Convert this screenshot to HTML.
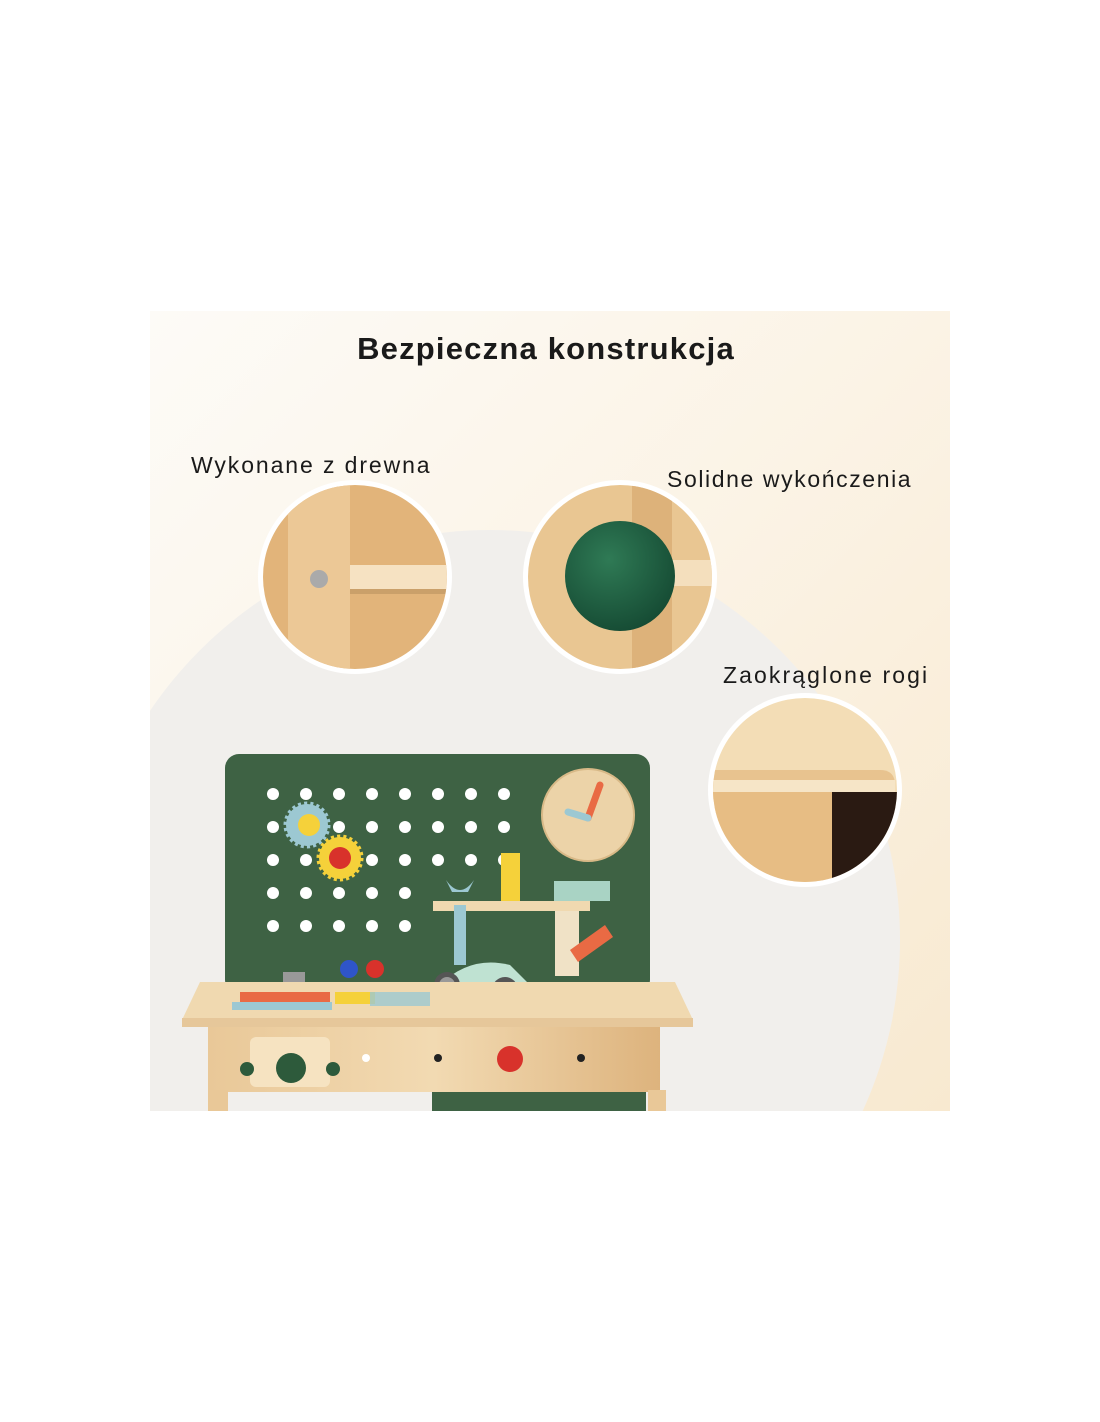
<!DOCTYPE html>
<html><head><meta charset="utf-8"><style>
html,body{margin:0;padding:0;background:#fff;}
body{width:1100px;height:1422px;position:relative;overflow:hidden;font-family:"Liberation Sans",sans-serif;}
svg{position:absolute;left:0;top:0;}
</style></head><body>
<svg width="1100" height="1422" viewBox="0 0 1100 1422">
<defs>
<linearGradient id="bg" x1="0" y1="0" x2="1" y2="1">
<stop offset="0" stop-color="#fdfbf7"/><stop offset="0.5" stop-color="#fbf3e5"/><stop offset="1" stop-color="#f8e9d0"/>
</linearGradient>
<linearGradient id="wood" x1="0" y1="0" x2="1" y2="0">
<stop offset="0" stop-color="#e9c898"/><stop offset="0.5" stop-color="#f2dab2"/><stop offset="1" stop-color="#ddb37d"/>
</linearGradient>
<radialGradient id="ball" cx="0.4" cy="0.35" r="0.7">
<stop offset="0" stop-color="#2f7a55"/><stop offset="1" stop-color="#154a33"/>
</radialGradient>
<clipPath id="img"><rect x="150" y="311" width="800" height="800"/></clipPath>
<clipPath id="c1"><circle cx="355" cy="577" r="92"/></clipPath>
<clipPath id="c2"><circle cx="620" cy="577" r="92"/></clipPath>
<clipPath id="c3"><circle cx="805" cy="790" r="92"/></clipPath>
</defs>
<g clip-path="url(#img)">
<rect x="150" y="311" width="800" height="800" fill="url(#bg)"/>
<circle cx="490" cy="940" r="410" fill="#f1efec"/>
<!-- board -->
<rect x="225" y="754" width="425" height="240" rx="14" fill="#3e6244"/>
<g fill="#fff">
<circle cx="273" cy="794" r="6"/><circle cx="306" cy="794" r="6"/><circle cx="339" cy="794" r="6"/><circle cx="372" cy="794" r="6"/><circle cx="405" cy="794" r="6"/><circle cx="438" cy="794" r="6"/><circle cx="471" cy="794" r="6"/><circle cx="504" cy="794" r="6"/>
<circle cx="273" cy="827" r="6"/><circle cx="306" cy="827" r="6"/><circle cx="339" cy="827" r="6"/><circle cx="372" cy="827" r="6"/><circle cx="405" cy="827" r="6"/><circle cx="438" cy="827" r="6"/><circle cx="471" cy="827" r="6"/><circle cx="504" cy="827" r="6"/>
<circle cx="273" cy="860" r="6"/><circle cx="306" cy="860" r="6"/><circle cx="339" cy="860" r="6"/><circle cx="372" cy="860" r="6"/><circle cx="405" cy="860" r="6"/><circle cx="438" cy="860" r="6"/><circle cx="471" cy="860" r="6"/><circle cx="504" cy="860" r="6"/>
<circle cx="273" cy="893" r="6"/><circle cx="306" cy="893" r="6"/><circle cx="339" cy="893" r="6"/><circle cx="372" cy="893" r="6"/><circle cx="405" cy="893" r="6"/>
<circle cx="273" cy="926" r="6"/><circle cx="306" cy="926" r="6"/><circle cx="339" cy="926" r="6"/><circle cx="372" cy="926" r="6"/><circle cx="405" cy="926" r="6"/>
</g>
<circle cx="307" cy="825" r="21" fill="#9cc8d2" stroke="#9cc8d2" stroke-width="5" stroke-dasharray="3 3"/>
<circle cx="309" cy="825" r="11" fill="#f5d13a"/>
<circle cx="340" cy="858" r="21" fill="#f5d13a" stroke="#f5d13a" stroke-width="5" stroke-dasharray="3 3"/>
<circle cx="340" cy="858" r="11" fill="#d8322b"/>
<circle cx="588" cy="815" r="46" fill="#ecd3a8" stroke="#d8b987" stroke-width="2"/>
<path d="M588 818 L600 785" stroke="#e96a44" stroke-width="7" stroke-linecap="round"/>
<path d="M588 818 L568 812" stroke="#9cc8d2" stroke-width="7" stroke-linecap="round"/>
<!-- shelf and tools -->
<rect x="433" y="901" width="157" height="10" fill="#f0d9b0"/>
<rect x="501" y="853" width="19" height="48" fill="#f5d13a"/>
<rect x="554" y="881" width="56" height="20" fill="#a9d3c4"/>
<rect x="454" y="905" width="12" height="60" fill="#9cc8d2"/>
<path d="M446 880 q14 20 28 0 l-6 12 h-16z" fill="#9cc8d2"/>
<rect x="555" y="911" width="24" height="65" fill="#f0e2c6"/>
<path d="M570 950 l35 -25 8 12 -35 25z" fill="#e96a44"/>
<path d="M440 985 q30 -30 70 -20 l20 20 -10 15 h-75z" fill="#bfe2d2"/>
<circle cx="447" cy="985" r="13" fill="#555"/><circle cx="505" cy="990" r="13" fill="#555"/>
<circle cx="447" cy="985" r="8" fill="#999"/><circle cx="505" cy="990" r="8" fill="#999"/>
<!-- table -->
<path d="M200 982 H675 L693 1020 H182 Z" fill="#f0d9b0"/>
<rect x="182" y="1018" width="511" height="9" fill="#e6c79a"/>
<rect x="208" y="1027" width="452" height="65" fill="url(#wood)"/>
<rect x="208" y="1090" width="20" height="25" fill="#e9c898"/>
<rect x="648" y="1090" width="18" height="25" fill="#e9c898"/>
<rect x="432" y="1092" width="214" height="20" fill="#3e6244"/>
<rect x="250" y="1037" width="80" height="50" rx="6" fill="#f6e3c1"/>
<circle cx="291" cy="1068" r="15" fill="#2d5a3b"/>
<circle cx="247" cy="1069" r="7" fill="#2d5a3b"/><circle cx="333" cy="1069" r="7" fill="#2d5a3b"/>
<circle cx="510" cy="1059" r="13" fill="#d8322b"/>
<circle cx="366" cy="1058" r="4" fill="#fff"/><circle cx="438" cy="1058" r="4" fill="#222"/><circle cx="581" cy="1058" r="4" fill="#222"/>
<rect x="240" y="992" width="90" height="10" fill="#e96a44"/>
<rect x="232" y="1002" width="100" height="8" fill="#9cc8d2"/>
<rect x="335" y="992" width="40" height="12" fill="#f5d13a"/>
<rect x="370" y="992" width="60" height="14" fill="#9cc8d2" opacity=".8"/>
<circle cx="349" cy="969" r="9" fill="#2f55c8"/><circle cx="375" cy="969" r="9" fill="#d8322b"/>
<rect x="283" y="972" width="22" height="10" fill="#999"/>
<!-- insets -->
<g>
<circle cx="355" cy="577" r="97" fill="#fff"/>
<g clip-path="url(#c1)">
<rect x="250" y="470" width="220" height="220" fill="#e2b47a"/>
<rect x="288" y="470" width="62" height="220" fill="#ecc896"/>
<rect x="350" y="565" width="110" height="26" fill="#f6e2c2"/>
<rect x="350" y="589" width="110" height="5" fill="#caa06a"/>
<circle cx="319" cy="579" r="9" fill="#aaa"/>
</g>
<circle cx="620" cy="577" r="97" fill="#fff"/>
<g clip-path="url(#c2)">
<rect x="520" y="470" width="210" height="220" fill="#e9c692"/>
<rect x="632" y="470" width="40" height="220" fill="#ddb27a"/>
<rect x="660" y="560" width="70" height="26" fill="#f4dfbd"/>
<circle cx="620" cy="576" r="55" fill="url(#ball)"/>
</g>
<circle cx="805" cy="790" r="97" fill="#fff"/>
<g clip-path="url(#c3)">
<rect x="700" y="690" width="220" height="200" fill="#f3ddb6"/>
<path d="M712 770 H880 q15 0 15 15 V800 H712Z" fill="#e8c38f"/>
<rect x="712" y="780" width="183" height="12" fill="#f6e5c7"/>
<rect x="712" y="792" width="120" height="95" fill="#e7bd84"/>
<rect x="832" y="792" width="70" height="95" fill="#2a1a12"/>
</g>
</g>
</g>
<g fill="#1a1a1a" font-family="'Liberation Sans',sans-serif">
<text x="546" y="359" text-anchor="middle" font-size="31" font-weight="bold" letter-spacing="1.2">Bezpieczna konstrukcja</text>
<text x="191" y="473" font-size="23" letter-spacing="1.9">Wykonane z drewna</text>
<text x="667" y="487" font-size="23" letter-spacing="1.6">Solidne wykończenia</text>
<text x="723" y="683" font-size="23" letter-spacing="2.1">Zaokrąglone rogi</text>
</g>
</svg>
</body></html>
